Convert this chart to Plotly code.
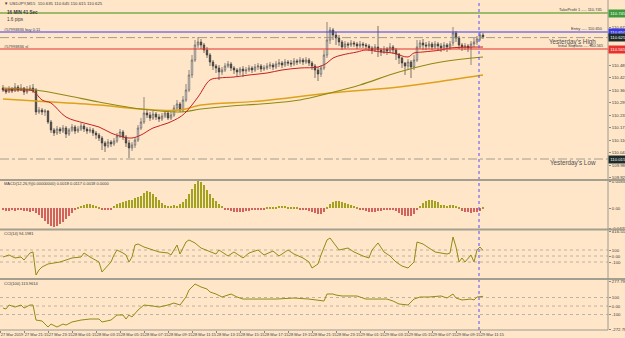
import plotly.graph_objects as go

# ---------------- data ----------------
OPEN = [110.370,110.360,110.350,110.365,110.355,110.375,110.360,110.370,110.350,110.360,110.370,
        110.360,110.250,110.260,110.250,110.255,110.200,110.160,110.145,110.165,110.155,
        110.170,110.140,110.160,110.175,110.155,110.165,110.180,110.165,110.155,110.160,
        110.145,110.135,110.120,110.095,110.080,110.100,110.090,110.105,110.130,110.150,
        110.125,110.095,110.070,110.085,110.110,110.170,110.200,110.245,110.235,110.220,
        110.240,110.225,110.215,110.230,110.245,110.220,110.235,110.270,110.290,110.260,
        110.310,110.360,110.435,110.510,110.585,110.600,110.585,110.560,110.535,110.500,
        110.480,110.470,110.450,110.460,110.480,110.490,110.470,110.460,110.450,110.465,
        110.455,110.460,110.470,110.460,110.475,110.480,110.465,110.470,110.480,110.485,
        110.475,110.490,110.495,110.485,110.500,110.495,110.490,110.505,110.500,110.510,
        110.500,110.510,110.495,110.480,110.460,110.440,110.470,110.535,110.610,110.660,
        110.635,110.620,110.600,110.575,110.590,110.585,110.595,110.590,110.580,110.590,
        110.585,110.580,110.570,110.560,110.575,110.560,110.550,110.565,110.555,110.575,
        110.560,110.540,110.520,110.495,110.480,110.500,110.475,110.510,110.575,110.595,
        110.585,110.580,110.590,110.575,110.590,110.580,110.570,110.585,110.575,110.595,
        110.645,110.620,110.585,110.575,110.580,110.570,110.590,110.600,110.615,110.635]
HIGH = [110.385,110.370,110.380,110.375,110.395,110.385,110.390,110.375,110.380,110.385,110.390,
        110.370,110.275,110.270,110.265,110.260,110.210,110.170,110.180,110.175,110.185,
        110.180,110.170,110.190,110.185,110.180,110.195,110.190,110.175,110.175,110.170,
        110.155,110.145,110.130,110.105,110.115,110.110,110.120,110.145,110.165,110.160,
        110.135,110.110,110.100,110.125,110.185,110.220,110.325,110.260,110.250,110.255,
        110.250,110.240,110.245,110.260,110.255,110.250,110.285,110.310,110.300,110.330,
        110.390,110.460,110.535,110.610,110.625,110.615,110.595,110.575,110.545,110.510,
        110.490,110.485,110.475,110.495,110.505,110.500,110.480,110.470,110.475,110.480,
        110.475,110.485,110.480,110.490,110.495,110.490,110.485,110.495,110.500,110.495,
        110.505,110.515,110.505,110.515,110.510,110.510,110.520,110.515,110.525,110.520,
        110.525,110.520,110.505,110.490,110.475,110.485,110.560,110.700,110.675,110.670,
        110.650,110.635,110.610,110.605,110.600,110.610,110.605,110.600,110.605,110.600,
        110.595,110.590,110.580,110.590,110.680,110.570,110.580,110.575,110.595,110.585,
        110.570,110.545,110.525,110.500,110.515,110.510,110.535,110.610,110.610,110.615,
        110.600,110.605,110.600,110.605,110.600,110.595,110.600,110.595,110.605,110.675,
        110.655,110.630,110.595,110.595,110.590,110.605,110.620,110.630,110.650,110.645]
LOW = [110.350,110.340,110.345,110.345,110.350,110.350,110.355,110.335,110.340,110.355,110.345,
       110.235,110.240,110.235,110.230,110.190,110.145,110.130,110.135,110.140,110.145,
       110.120,110.130,110.150,110.140,110.145,110.155,110.150,110.140,110.145,110.130,
       110.115,110.105,110.060,110.050,110.070,110.075,110.080,110.095,110.120,110.110,
       110.075,110.020,110.055,110.070,110.100,110.160,110.190,110.220,110.205,110.210,
       110.210,110.200,110.205,110.220,110.210,110.210,110.225,110.260,110.250,110.250,
       110.300,110.350,110.420,110.500,110.570,110.565,110.545,110.520,110.480,110.460,
       110.445,110.410,110.435,110.450,110.470,110.455,110.440,110.430,110.435,110.425,
       110.440,110.450,110.445,110.450,110.460,110.450,110.455,110.460,110.465,110.460,
       110.465,110.475,110.470,110.475,110.480,110.475,110.480,110.485,110.490,110.485,
       110.490,110.480,110.460,110.420,110.405,110.425,110.460,110.520,110.590,110.610,
       110.585,110.580,110.560,110.565,110.570,110.575,110.575,110.565,110.570,110.570,
       110.565,110.555,110.540,110.550,110.525,110.530,110.540,110.535,110.545,110.540,
       110.510,110.490,110.470,110.435,110.460,110.420,110.460,110.500,110.565,110.560,
       110.560,110.565,110.560,110.565,110.560,110.550,110.555,110.550,110.560,110.580,
       110.600,110.565,110.555,110.560,110.550,110.485,110.575,110.585,110.605,110.615]
CLOSE = [110.360,110.350,110.365,110.355,110.375,110.360,110.370,110.350,110.360,110.370,110.355,
         110.250,110.260,110.250,110.255,110.200,110.160,110.145,110.165,110.155,110.170,
         110.140,110.160,110.175,110.155,110.165,110.180,110.165,110.155,110.160,110.145,
         110.135,110.120,110.095,110.080,110.100,110.090,110.105,110.130,110.150,110.125,
         110.095,110.070,110.085,110.110,110.170,110.200,110.245,110.235,110.220,110.240,
         110.225,110.215,110.230,110.245,110.220,110.235,110.270,110.290,110.260,110.310,
         110.360,110.435,110.510,110.585,110.600,110.585,110.560,110.535,110.500,110.480,
         110.470,110.450,110.460,110.480,110.490,110.470,110.460,110.450,110.465,110.455,
         110.460,110.470,110.460,110.475,110.480,110.465,110.470,110.480,110.485,110.475,
         110.490,110.495,110.485,110.500,110.495,110.490,110.505,110.500,110.510,110.500,
         110.510,110.495,110.480,110.460,110.440,110.470,110.535,110.610,110.660,110.635,
         110.620,110.600,110.575,110.590,110.585,110.595,110.590,110.580,110.590,110.585,
         110.580,110.570,110.560,110.575,110.560,110.550,110.565,110.555,110.575,110.560,
         110.540,110.520,110.495,110.480,110.500,110.475,110.510,110.575,110.595,110.585,
         110.580,110.590,110.575,110.590,110.580,110.570,110.585,110.575,110.590,110.645,
         110.620,110.585,110.575,110.580,110.570,110.590,110.600,110.615,110.635,110.625]

RED_IDX = [0,6,10,13,16,21,27,32,36,40,43,46,50,55,59,61,65,69,72,77,82,88,93,99,105,108,110,113,118,121,126,130,135,137,140,146,149,160]
RED_VAL = [110.36,110.36,110.355,110.31,110.295,110.225,110.195,110.175,110.145,110.125,
           110.12,110.135,110.17,110.195,110.225,110.25,110.325,110.41,110.42,110.425,
           110.435,110.445,110.46,110.47,110.475,110.495,110.52,110.535,110.55,110.56,
           110.55,110.545,110.525,110.545,110.55,110.56,110.57,110.575]
OLIVE_IDX = [0,11,22,32,46,59,66,76,86,99,109,119,132,146,160]
OLIVE_VAL = [110.37,110.36,110.33,110.30,110.265,110.25,110.265,110.28,110.29,110.31,110.345,110.385,110.45,110.50,110.525]
ORANGE_IDX = [0,11,32,46,59,66,86,109,132,149,160]
ORANGE_VAL = [110.315,110.305,110.285,110.265,110.26,110.285,110.305,110.345,110.375,110.41,110.435]

MACD = [-0.0043,-0.0064,-0.0064,-0.0043,-0.0064,-0.0043,-0.0043,-0.0064,-0.0064,-0.0086,-0.0064,
        -0.0107,-0.0150,-0.0214,-0.0278,-0.0342,-0.0385,-0.0407,-0.0385,-0.0342,-0.0300,-0.0235,-0.0171,-0.0107,-0.0043,
        0.0021,0.0043,0.0064,0.0086,0.0086,0.0064,0.0043,0.0021,
        -0.0021,-0.0043,-0.0043,-0.0021,
        0.0043,0.0086,0.0107,0.0128,0.0150,0.0171,0.0171,0.0214,0.0235,0.0257,
        0.0321,0.0364,0.0342,0.0300,0.0235,0.0171,0.0107,0.0064,0.0043,0.0043,
        0.0064,0.0043,0.0086,0.0128,0.0193,0.0300,0.0407,0.0514,0.0578,0.0556,
        0.0492,0.0385,
        0.0300,0.0214,0.0150,0.0086,0.0043,
        -0.0021,-0.0043,-0.0064,-0.0086,-0.0086,-0.0086,-0.0086,-0.0064,-0.0064,-0.0043,-0.0043,-0.0021,-0.0021,-0.0021,
        0.0021,0.0021,0.0021,0.0021,0.0043,0.0043,0.0043,0.0021,0.0021,0.0021,0.0021,
        -0.0021,-0.0021,-0.0043,-0.0064,-0.0086,-0.0107,-0.0128,-0.0128,-0.0086,
        0.0021,0.0086,0.0128,0.0150,0.0150,0.0128,0.0107,0.0086,0.0064,0.0043,0.0021,
        -0.0021,-0.0043,-0.0064,-0.0086,-0.0086,-0.0086,-0.0064,-0.0064,-0.0043,-0.0043,-0.0021,
        -0.0043,-0.0064,-0.0107,-0.0150,-0.0171,-0.0171,-0.0171,-0.0128,-0.0043,
        0.0043,0.0107,0.0150,0.0171,0.0171,0.0150,0.0128,
        0.0064,0.0064,0.0043,0.0064,0.0064,0.0043,0.0021,
        -0.0064,-0.0086,-0.0086,-0.0107,-0.0086,-0.0086,-0.0064,
        0.0021]

CCI14_IDX = [0,2,4,6,7,9,10,11,12,13,15,17,19,21,23,26,27,29,31,32,33,35,36,37,38,40,41,42,43,44,
             45,47,48,50,52,55,56,57,58,59,61,62,64,66,69,71,72,75,77,80,82,85,87,90,92,95,97,100,102,103,
             105,106,108,109,111,112,115,117,120,122,123,125,127,129,131,133,135,137,138,140,142,144,146,148,149,
             150,151,152,153,154,156,157,158,159,160]
CCI14_VAL = [-17,17,-33,-17,-67,50,67,-317,-233,-183,-133,-117,-100,-67,-33,-17,50,-17,-67,-100,
             -267,-150,-100,17,100,50,17,-100,-17,183,200,150,133,100,67,50,17,100,183,33,
             233,267,217,133,67,33,100,0,67,-33,50,100,17,83,0,100,33,-33,-100,-200,
             -133,17,267,300,167,100,133,67,0,-33,100,217,67,0,-100,-167,-200,-100,233,200,
             133,67,50,33,50,317,150,-100,-33,-100,17,-100,100,150,94]

CCI100_IDX = [0,1,2,4,6,7,9,10,11,13,15,16,18,20,21,23,26,29,32,33,36,38,40,41,42,43,45,47,50,52,
              55,57,59,61,62,64,66,68,69,71,73,76,78,80,86,91,97,102,107,108,110,111,113,118,121,125,128,130,132,135,
              137,139,142,146,148,150,151,153,156,157,158,160]
CCI100_VAL = [-24,-35,12,-12,12,-24,12,12,-165,-176,-247,-212,-247,-212,-224,-188,-165,-153,-153,-188,
              -165,-106,-106,-153,-106,-129,-47,12,0,-12,12,35,12,106,188,259,224,200,165,141,
              106,141,106,82,82,82,94,82,59,141,141,129,118,118,82,82,82,59,24,12,
              82,106,106,118,94,141,94,71,82,71,106,114]

X_TICK_IDX = [-0.9,7.1,15.1,23.1,31.1,39.1,47.1,55.1,63.1,71.1,79.1,87.1,95.1,103.1,111.1,
              119.1,127.1,135.1,143.1,151.1,159.1]
X_TICK_TEXT = ["27 Mar 2019","27 Mar 21:15","27 Mar 23:15","28 Mar 01:15","28 Mar 03:15","28 Mar 05:15",
               "28 Mar 07:15","28 Mar 09:15","28 Mar 11:15","28 Mar 13:15","28 Mar 15:15","28 Mar 17:15",
               "28 Mar 19:15","28 Mar 21:15","28 Mar 23:15","29 Mar 01:15","29 Mar 03:15","29 Mar 05:15",
               "29 Mar 07:15","29 Mar 09:15","29 Mar 11:15"]

PRICE_TICKS = [110.672,110.485,110.422,110.360,110.297,110.235,110.172,110.110,110.047,109.985,109.922]

TAKE_PROFIT = 110.745
ENTRY = 110.650
Y_HIGH = 110.622
STOP_LOSS = 110.565
Y_LOW = 110.015
LAST_PRICE = 110.625
VLINE_IDX = 158.67

MACD_RANGE = [-0.0423, 0.0583]
CCI14_RANGE = [-350, 416.557]
CCI100_RANGE = [-282, 306]

# ---------------- styling / layout ----------------
BG = "#FFE6C9"
FONT = "Liberation Sans"
TXT = "#3A3A3A"
SEP = "#A39E8E"
W, H = 625, 338
PLOT_W, PLOT_H = 608, 330


def px(xp):
    return xp / PLOT_W


def py(yp):
    return (PLOT_H - yp) / PLOT_H


x = list(range(len(CLOSE)))
fig = go.Figure()

fig.add_trace(go.Candlestick(
    x=x, open=OPEN, high=HIGH, low=LOW, close=CLOSE,
    increasing=dict(line=dict(color="#5A5A5A", width=0.7), fillcolor="#F7F7F7"),
    decreasing=dict(line=dict(color="#3C3C3C", width=0.7), fillcolor="#3C3C3C"),
    whiskerwidth=0, xaxis="x", yaxis="y", hoverinfo="skip", showlegend=False))

fig.add_trace(go.Scatter(x=ORANGE_IDX, y=ORANGE_VAL, mode="lines",
                         line=dict(color="#DDA21A", width=1.4, shape="spline"), yaxis="y"))
fig.add_trace(go.Scatter(x=OLIVE_IDX, y=OLIVE_VAL, mode="lines",
                         line=dict(color="#8E8A12", width=1.1, shape="spline"), yaxis="y"))
fig.add_trace(go.Scatter(x=RED_IDX, y=RED_VAL, mode="lines",
                         line=dict(color="#C8201E", width=1, shape="spline"), yaxis="y"))

macd_colors = ["#A3A21E" if v >= 0 else "#D2625C" for v in MACD]
fig.add_trace(go.Bar(x=x, y=MACD, marker=dict(color=macd_colors, line=dict(width=0)),
                     width=0.45, yaxis="y2"))

fig.add_trace(go.Scatter(x=CCI14_IDX, y=CCI14_VAL, mode="lines",
                         line=dict(color="#8F8C14", width=1), yaxis="y3"))
fig.add_trace(go.Scatter(x=CCI100_IDX, y=CCI100_VAL, mode="lines",
                         line=dict(color="#8F8C14", width=1), yaxis="y4"))

shapes = []
for lvl, col, w, dash in [(TAKE_PROFIT, "#9DBA6C", 2, "solid"), (ENTRY, "#3B3BF2", 1, "solid"),
                          (Y_HIGH, "#8A8A80", 0.8, "dashdot"), (STOP_LOSS, "#E3302C", 1.2, "solid"),
                          (Y_LOW, "#8A8A80", 0.8, "dashdot")]:
    shapes.append(dict(type="line", xref="paper", yref="y", x0=0, x1=1, y0=lvl, y1=lvl,
                       line=dict(color=col, width=w, dash=dash), layer="above"))
for lvl in [100, 0, -100]:
    shapes.append(dict(type="line", xref="paper", yref="y3", x0=0, x1=1, y0=lvl, y1=lvl,
                       line=dict(color="#A8A49A", width=0.8, dash="dot"), layer="below"))
    shapes.append(dict(type="line", xref="paper", yref="y4", x0=0, x1=1, y0=lvl, y1=lvl,
                       line=dict(color="#A8A49A", width=0.8, dash="dot"), layer="below"))
shapes.append(dict(type="line", xref="x", yref="paper", x0=VLINE_IDX, x1=VLINE_IDX, y0=0, y1=1,
                   line=dict(color="#5050FF", width=1, dash="dot"), layer="above"))
for yp in [180, 229.5, 279]:
    shapes.append(dict(type="line", xref="paper", yref="paper", x0=0, x1=W / PLOT_W,
                       y0=py(yp), y1=py(yp), line=dict(color=SEP, width=2)))
shapes.append(dict(type="line", xref="paper", yref="paper", x0=1, x1=1, y0=0, y1=1,
                   line=dict(color="#9A9A90", width=1)))
shapes.append(dict(type="line", xref="paper", yref="paper", x0=0, x1=1, y0=0, y1=0,
                   line=dict(color="#9A9A90", width=1)))

ann = []


def txt(xp, yp, s, size=4.3, color=TXT, anchor="left", bold=False):
    ann.append(dict(x=px(xp), y=py(yp), xref="paper", yref="paper", text=("<b>%s</b>" % s) if bold else s,
                    showarrow=False, xanchor=anchor, yanchor="middle",
                    font=dict(family=FONT, size=size, color=color)))


txt(2, 4, "▼ USDJPY,M15  110.635 110.645 110.615 110.625")
txt(5, 12.5, "16 MIN 41 Sec", size=4.6, bold=True)
txt(5, 19, "1.6 pips", size=4.6)
txt(2, 29, "#57993836 buy 0.11", size=4)
txt(2, 46, "#57993836 sl", size=4)
txt(605, 9.5, "TakeProfit 1 ---- %.3f" % TAKE_PROFIT, size=4, anchor="right")
txt(605, 28.5, "Entry ---- %.3f" % ENTRY, size=4, anchor="right")
txt(598, 42, "Yesterday's High", size=6.3, color="#505050", anchor="right")
txt(605, 46.5, "Initial Stoploss ---- %.3f" % STOP_LOSS, size=3.8, anchor="right")
txt(598, 163, "Yesterday's Low", size=6.3, color="#505050", anchor="right")
txt(2, 183.5, "MACD(12,26,9)(0.00000000) 0.0018 0.0117 0.0018 0.0000", size=4)
txt(2, 233.5, "CCI(14) 94.1981", size=4)
txt(2, 283.5, "CCI(100) 113.9614", size=4)

for lvl, col in [(TAKE_PROFIT, "#3E9A3A"), (ENTRY, "#3838E8"), (LAST_PRICE, "#1E2A2A"),
                 (STOP_LOSS, "#E8302C"), (Y_LOW, "#1E2A2A")]:
    ann.append(dict(x=1, y=lvl, xref="paper", yref="y", text="%.3f" % lvl, showarrow=False,
                    xanchor="left", yanchor="middle", bgcolor=col, borderpad=1.2,
                    font=dict(family=FONT, size=4.3, color="white")))

axis_font = dict(family=FONT, size=4.3, color=TXT)
common_y = dict(side="right", anchor="x", showgrid=False, zeroline=False, ticks="outside",
                ticklen=2, tickcolor="#888", tickfont=axis_font, showline=False, fixedrange=True)

fig.update_layout(
    width=W, height=H, paper_bgcolor=BG, plot_bgcolor=BG,
    margin=dict(l=0, r=W - PLOT_W, t=0, b=H - PLOT_H),
    showlegend=False, hovermode=False, bargap=0,
    shapes=shapes, annotations=ann,
    xaxis=dict(domain=[0, 1], anchor="y4", range=[-1, (PLOT_W - 3) / 3], showgrid=False, zeroline=False,
               rangeslider=dict(visible=False), tickvals=X_TICK_IDX, ticktext=X_TICK_TEXT,
               ticklabelposition="outside right", tickangle=0, ticks="outside", ticklen=2, tickcolor="#888",
               tickfont=dict(family=FONT, size=4, color=TXT), showline=False, automargin=False,
               fixedrange=True),
    yaxis=dict(domain=[py(179), py(2)], range=[110.81 - 0.005 * 179, 110.81 - 0.005 * 2],
               tickvals=PRICE_TICKS, ticktext=["%.3f" % t for t in PRICE_TICKS], automargin=False, **common_y),
    yaxis2=dict(domain=[py(228), py(181)], range=MACD_RANGE,
                tickvals=[MACD_RANGE[1] - 0.002, 0, MACD_RANGE[0]],
                ticktext=["%.4f" % MACD_RANGE[1], "0.00", "%.4f" % MACD_RANGE[0]], automargin=False, **common_y),
    yaxis3=dict(domain=[py(277), py(231)], range=CCI14_RANGE,
                tickvals=[CCI14_RANGE[1] - 15, 100, 0, -100],
                ticktext=["%.3f" % CCI14_RANGE[1], "100", "0.00", "-100"], automargin=False, **common_y),
    yaxis4=dict(domain=[py(330), py(280)], range=CCI100_RANGE,
                tickvals=[CCI100_RANGE[1] - 20, 100, 0, -100, CCI100_RANGE[0] + 10],
                ticktext=["277.7912", "100", "0.00", "-100", "-272.787"], automargin=False, **common_y),
)

fig.write_html("out.html")
